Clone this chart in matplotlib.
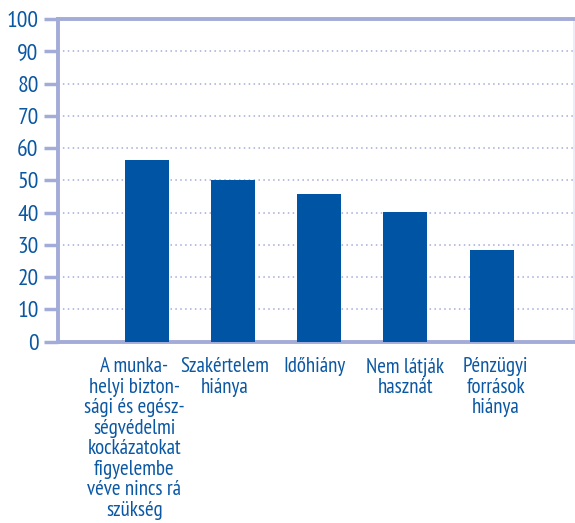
import matplotlib
matplotlib.use("Agg")
import matplotlib.pyplot as plt

categories = [
    "A munka-\nhelyi bizton-\nsági és egész-\nségvédelmi\nkockázatokat\nfigyelembe\nvéve nincs rá\nszükség",
    "Szakértelem\nhiánya",
    "Időhiány",
    "Nem látják\nhasznát",
    "Pénzügyi\nforrások\nhiánya",
]
values = [56.3, 50.0, 45.7, 40.1, 28.4]
yticks = list(range(0, 101, 10))

plt.rcParams['font.family'] = ['PT Sans Narrow', 'Roboto Condensed', 'DejaVu Sans']

bar_color = '#0054a4'
axis_color = '#a3acd8'
text_color = '#0a57a3'

fig = plt.figure(figsize=(5.75, 5.23), dpi=100)
ax = fig.add_axes([58/575, 1 - 341.7/523, 1 - 58/575 - 1.5/575, (341.7 - 19)/523])

positions = list(range(1, len(values) + 1))
ax.bar(positions, values, width=0.51, color=bar_color, zorder=3)

ax.set_xlim(-0.03, 5.95)
ax.set_ylim(0, 100)
ax.set_yticks(yticks)
ax.set_yticklabels([str(t) for t in yticks], fontsize=17, color=text_color)
ax.tick_params(axis='y', length=10, width=2.5, color=axis_color, pad=4)
ax.set_xticks([])

for y in yticks[1:-1]:
    ax.axhline(y, color=axis_color, linestyle=(0, (1, 2.2)), linewidth=1.1, zorder=1)

for side in ('left', 'bottom', 'top'):
    ax.spines[side].set_color(axis_color)
    ax.spines[side].set_linewidth(2.8)
ax.spines['right'].set_color('#e6e9f5')
ax.spines['right'].set_linewidth(1.2)

# category labels (slightly different spacing than bars, as in the original)
for i, lab in enumerate(categories):
    lx = 0.855 + 1.048 * i
    ax.text(lx, -4.8, lab, ha='center', va='top', fontsize=15, color=text_color,
            linespacing=1.1, transform=ax.transData, clip_on=False)

fig.savefig('out.png', dpi=100)
